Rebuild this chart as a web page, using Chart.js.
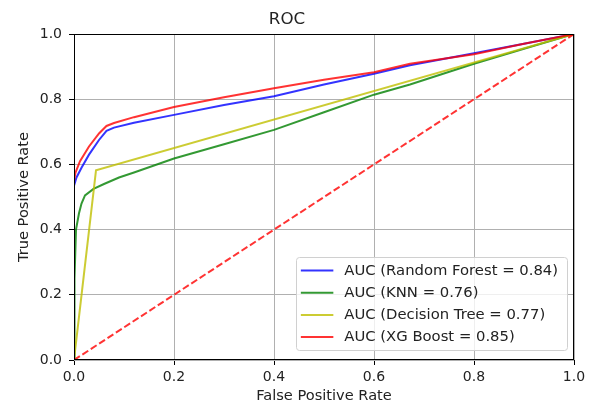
<!DOCTYPE html>
<html>
<head>
<meta charset="utf-8">
<script src="https://cdn.jsdelivr.net/npm/chart.js@4.4.1/dist/chart.umd.min.js"></script>
<style>
  html, body { margin: 0; padding: 0; background: #fff; }
  #wrap { width: 590px; height: 405px; }
</style>
</head>
<body>
<div id="wrap"><canvas id="roc"></canvas></div>
<script>
// ROC curves: false positive rate / true positive rate
const rfFpr = [0, 0, 0.005, 0.015, 0.03, 0.05, 0.065, 0.08, 0.12, 0.2, 0.3, 0.4, 0.5, 0.6, 0.672, 0.8, 0.9, 1];
const rfTpr = [0, 0.535, 0.56, 0.59, 0.63, 0.675, 0.703, 0.713, 0.728, 0.752, 0.782, 0.809, 0.845, 0.878, 0.904, 0.941, 0.97, 1];

const knnFpr = [0, 0.001, 0.004, 0.01, 0.015, 0.022, 0.039, 0.06, 0.09, 0.12, 0.2, 0.3, 0.4, 0.5, 0.6, 0.672, 0.8, 0.9, 1];
const knnTpr = [0, 0.25, 0.40, 0.45, 0.48, 0.505, 0.525, 0.54, 0.56, 0.575, 0.618, 0.662, 0.706, 0.76, 0.814, 0.845, 0.909, 0.955, 1];

const dtFpr = [0, 0.044, 1];
const dtTpr = [0, 0.582, 1];

const xgbFpr = [0, 0, 0.003, 0.012, 0.03, 0.05, 0.065, 0.08, 0.12, 0.2, 0.3, 0.4, 0.5, 0.6, 0.672, 0.8, 0.9, 1];
const xgbTpr = [0, 0.55, 0.575, 0.61, 0.655, 0.695, 0.718, 0.727, 0.745, 0.776, 0.806, 0.834, 0.86, 0.883, 0.909, 0.938, 0.97, 1];

const chanceFpr = [0, 1];
const chanceTpr = [0, 1];

const seriesLabels = [
    'AUC (Random Forest = 0.84)',
    'AUC (KNN = 0.76)',
    'AUC (Decision Tree = 0.77)',
    'AUC (XG Boost = 0.85)'
];
const tickValues = [0, 0.2, 0.4, 0.6, 0.8, 1.0];

const FONT = 'DejaVu Sans';

function points(xs, ys) {
    return xs.map((x, i) => ({ x: x, y: ys[i] }));
}

function curve(label, xs, ys, color, order) {
    return {
        label: label,
        data: points(xs, ys),
        borderColor: color,
        borderWidth: 2,
        showLine: true,
        pointRadius: 0,
        tension: 0,
        order: order
    };
}

// matplotlib style legend drawn inside the plot, lower right
const insideLegend = {
    id: 'insideLegend',
    afterDraw(chart) {
        const ctx = chart.ctx;
        const area = chart.chartArea;
        const sets = chart.data.datasets.filter(d => d.inLegend);
        ctx.save();
        ctx.font = '14.8px "' + FONT + '"';
        const textW = Math.max(...sets.map(d => ctx.measureText(d.label).width));
        const rowH = 22.2;
        const w = 48 + textW + 9;
        const h = 93;
        const x0 = area.right - 7 - w;
        const y0 = area.bottom - 10 - h;

        ctx.fillStyle = 'rgba(255,255,255,0.8)';
        ctx.strokeStyle = '#d0d0d0';
        ctx.lineWidth = 1;
        ctx.beginPath();
        ctx.roundRect(Math.round(x0) + 0.5, Math.round(y0) + 0.5, Math.round(w), h, 3);
        ctx.fill();
        ctx.stroke();

        sets.forEach((d, i) => {
            const cy = y0 + 13.5 + i * rowH;
            ctx.strokeStyle = d.borderColor;
            ctx.lineWidth = 2;
            ctx.beginPath();
            ctx.moveTo(x0 + 4.5, cy);
            ctx.lineTo(x0 + 37, cy);
            ctx.stroke();
            ctx.fillStyle = '#222';
            ctx.textBaseline = 'middle';
            ctx.fillText(d.label, x0 + 48, cy + 0.5);
        });
        ctx.restore();
    }
};

// black frame on all four sides, above the lines
const frame = {
    id: 'frame',
    afterDatasetsDraw(chart) {
        const a = chart.chartArea;
        const ctx = chart.ctx;
        ctx.save();
        ctx.strokeStyle = '#000';
        ctx.lineWidth = 1;
        ctx.strokeRect(Math.round(a.left) + 0.5, Math.round(a.top) + 0.5,
            Math.round(a.right - a.left) - 1, Math.round(a.bottom - a.top) - 1);
        ctx.restore();
    }
};

const datasets = [
    curve(seriesLabels[0], rfFpr, rfTpr, 'rgba(0,0,255,0.8)', 5),
    curve(seriesLabels[1], knnFpr, knnTpr, 'rgba(0,128,0,0.8)', 4),
    curve(seriesLabels[2], dtFpr, dtTpr, 'rgba(191,191,0,0.8)', 3),
    curve(seriesLabels[3], xgbFpr, xgbTpr, 'rgba(255,0,0,0.8)', 2)
];
datasets.forEach(d => d.inLegend = true);
datasets.push({
    label: 'chance',
    data: points(chanceFpr, chanceTpr),
    borderColor: 'rgba(255,0,0,0.8)',
    borderWidth: 2,
    borderDash: [7, 3],
    showLine: true,
    pointRadius: 0,
    order: 1
});

function axis(title, fitKey, fitValue, tickPad, titlePad) {
    return {
        type: 'linear',
        min: 0,
        max: 1,
        afterBuildTicks: s => { s.ticks = tickValues.map(v => ({ value: v })); },
        afterFit: s => { s[fitKey] = fitValue; },
        ticks: {
            color: '#222',
            font: { family: FONT, size: 14 },
            padding: tickPad,
            callback: v => v.toFixed(1)
        },
        grid: {
            color: '#b0b0b0',
            lineWidth: 1,
            tickColor: '#000',
            tickLength: 5
        },
        border: { display: false },
        title: {
            display: true,
            text: title,
            color: '#222',
            font: { family: FONT, size: 14.6 },
            padding: titlePad
        }
    };
}

new Chart(document.getElementById('roc'), {
    type: 'scatter',
    data: { datasets: datasets },
    options: {
        responsive: true,
        maintainAspectRatio: false,
        animation: false,
        layout: { padding: { top: 0, right: 16, left: 0, bottom: 0 } },
        scales: {
            x: axis('False Positive Rate', 'height', 45, 3.5, { top: 0, bottom: 0 }),
            y: axis('True Positive Rate', 'width', 74, 7, { top: 15, bottom: 15 })
        },
        plugins: {
            legend: { display: false },
            tooltip: { enabled: false },
            title: {
                display: true,
                text: 'ROC',
                color: '#222',
                font: { family: FONT, size: 16.7, weight: 'normal' },
                padding: { top: 9.5, bottom: 4.5 }
            }
        }
    },
    plugins: [insideLegend, frame]
});
</script>
</body>
</html>
